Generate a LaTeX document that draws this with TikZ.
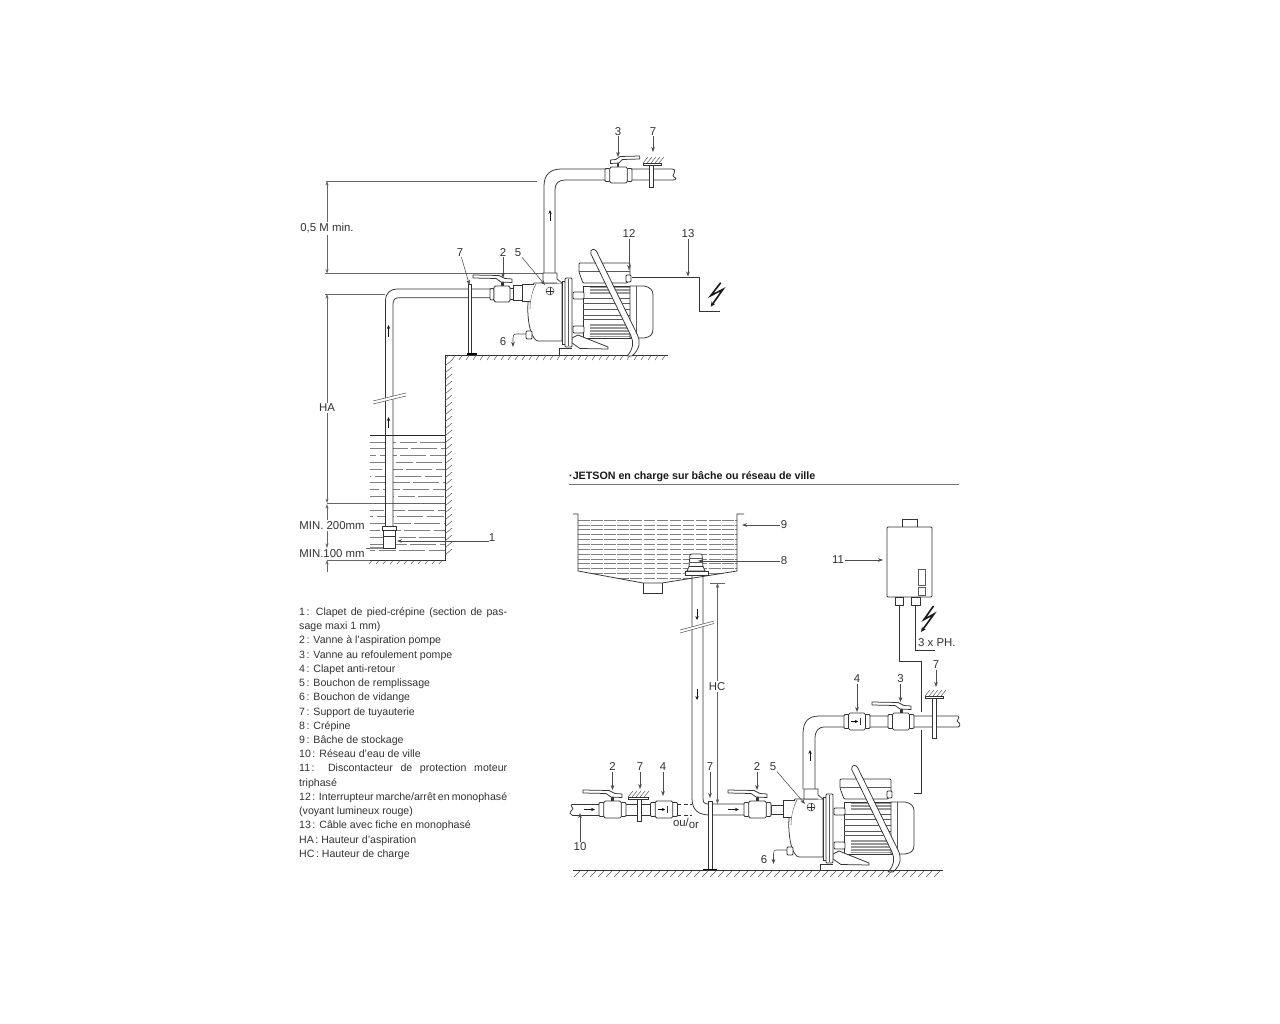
\documentclass[tikz,border=0pt]{standalone}
\usepackage{fontspec}
\setmainfont{Liberation Sans}
\usetikzlibrary{arrows.meta}
\tikzset{
  ln/.style={line width=0.75pt,black!80},
  thinln/.style={line width=0.55pt,black!65},
  dim/.style={line width=0.6pt,black!60},
  dimarr/.style={dim,{Stealth[length=4.5pt,width=3pt]}-{Stealth[length=4.5pt,width=3pt]}},
  lead/.style={line width=0.55pt,black!70,-{Stealth[length=5pt,width=3.6pt]}},
  flow/.style={line width=0.9pt,black!90,-{Stealth[length=4pt,width=3.4pt]}},
  lab/.style={font=\fontsize{11.4}{12}\selectfont,text=black!80,inner sep=0.5pt},
  water/.style={line width=0.6pt,black!50},
  hatch/.style={line width=0.5pt,black!65},
  part/.style={ln,fill=white},
  bolt/.style={line width=1.6pt,black!90,-{Stealth[length=5pt,width=4.4pt]}},
}
\newcommand\pvalve[4]{%
  \draw[part,rounded corners=1pt] ({#1-#3},{#2-#4+1.5}) rectangle ({#1-0.62*#3},{#2+#4-1.5});
  \draw[part,rounded corners=1pt] ({#1+0.62*#3},{#2-#4+1.5}) rectangle ({#1+#3},{#2+#4-1.5});
  \draw[part,rounded corners=1.5pt] ({#1-0.65*#3},{#2-#4}) rectangle ({#1+0.65*#3},{#2+#4});
}
\newcommand\phandle[3]{%
  \begin{scope}[shift={(#1,#2)},xscale=#3]
    \fill[black!80] (-1.5,-5) rectangle (1.5,0);
    \draw[part,line join=round] (-29,-11) -- (-3,-10.5) -- (3,-7.5) -- (10,-7) -- (10,-3.5) -- (-1,-4) -- (-6,-7.5) -- (-29,-8) -- cycle;
  \end{scope}
}
\newcommand\pcheck[2]{%
  \draw[line width=0.9pt,black,-{Stealth[length=3pt,width=3pt]}] ({#1-6},#2) -- ({#1+1},#2);
  \draw[line width=0.6pt,black!80] ({#1+3.5},{#2-3.5}) -- ({#1+3.5},{#2+3.5});
}
\newcommand\psupport[5]{% x1 x2 bar-y post-x post-bottom
  \foreach \xx in {0,4,...,16} {\draw[hatch] ({#1+\xx},#3) -- ({#1+\xx+5},{#3-6});}
  \draw[part] (#1,#3) rectangle (#2,{#3+2.4});
  \draw[part] ({#4-2},{#3+2.4}) rectangle ({#4+2},#5);
}
\newcommand\pumpunit{%
  % motor
  \fill[white] (579,263) rectangle (653,340);
  \draw[ln] (583,286) rectangle (630,338);
  \fill[black!40] (590,287) rectangle (630,294);
  \fill[black!40] (590,324) rectangle (630,337);
  \foreach \yy in {298,303,309,315,319}{\draw[thinln] (583,\yy) -- (630,\yy);}
  \foreach \yy in {288,291,326,329,332,335}{\draw[line width=0.4pt,white] (590,\yy) -- (630,\yy);}
  \draw[part] (630,286) -- (644,286) .. controls (650,287) and (653,290) .. (653,295) -- (653,329) .. controls (653,335) and (650,337) .. (644,338) -- (630,338) -- cycle;
  \draw[thinln] (636,286) -- (636,338);
  % terminal box
  \draw[part,rounded corners=1pt] (583,283) -- (579,272) -- (579,263) -- (630,263) -- (630,279) -- (627,283) -- cycle;
  \draw[thinln] (579,271) -- (630,271);
  \draw[part,rounded corners=1pt] (626,275) rectangle (631,282);
  % posts
  \draw[part,rounded corners=1pt] (573,292) rectangle (584,299);
  \draw[part,rounded corners=1pt] (573,326) rectangle (584,333);
  % foot and base
  \draw[part] (572,338) -- (578,335) -- (608,347) -- (608,349) -- (580,348.5) -- (572,343) -- cycle;
  \draw[ln] (559,355) -- (559,348) -- (572,348);
  % casing
  \draw[part] (534,283) .. controls (529,292) and (527,303) .. (528,315) .. controls (529,330) and (533,340) .. (538,341) -- (562,341) -- (562,283) -- cycle;
  \draw[thinln] (536,284) .. controls (532,291) and (530,300) .. (530,309);
  \draw[part] (562,281) rectangle (565,344);
  \draw[part,rounded corners=1pt] (565,278) rectangle (572,347);
  \draw[thinln] (568,279) -- (568,346);
  % outlet and suction stubs
  \draw[part] (557,283) -- (543,283) -- (543,273) -- (557,273) -- (557,279) -- (562,283);
  \draw[part] (534,284) -- (522,284) -- (522,301) -- (530,301);
  \draw[thinln] (550,291) ++(4,0) arc[start angle=0,end angle=360,radius=4];
  \draw[ln] (546,291) -- (554,291) (550,287) -- (550,295);
  % drain plug
  \draw[part,rounded corners=1pt] (526,331) rectangle (532,339);
  % handle
  \draw[part,line join=round] (590.7,253.5) .. controls (590,248.5) and (595,248) .. (596.7,251.7) -- (637.5,335) .. controls (640.5,342) and (640,349) .. (632,356) -- (627,356) .. controls (633,350) and (634,342) .. (631,336) -- cycle;
}
\newcommand\cln{\kern1.5pt:\space}
\begin{document}
\begin{tikzpicture}[x=1pt,y=-1pt]
\useasboundingbox (0,0) rectangle (1280,1024);
\fill[white] (0,0) rectangle (1280,1024);

%%%%%%%%%%%%%%%%%%% UPPER DIAGRAM
% dimensions
\draw[dim] (326,181) -- (537,181);
\draw[dim] (325,273.5) -- (545,273.5);
\draw[dim] (325,294) -- (385,294);
\draw[dim] (327,503.7) -- (445,503.7);
\draw[dim] (327,548) -- (382,548);
\draw[dim] (327,560) -- (370,560);
\draw[dimarr] (327,181) -- (327,273.5);
\draw[dimarr] (327,294) -- (327,503.2);
\draw[dim,{Stealth[length=4.5pt,width=3pt]}-{Stealth[length=4.5pt,width=3pt]}] (327,504.2) -- (327,548);
\draw[dim,{Stealth[length=4.5pt,width=3pt]}-] (327,560) -- (327,572);
\node[lab,fill=white,inner sep=1.5pt] (d05) at (327,228.5) {0,5 M min.};
\node[lab,fill=white,inner sep=1.5pt] (dha) at (327,408) {HA};
\node[lab,fill=white,inner sep=1.5pt] (d200) at (332,525.5) {MIN. 200mm};
\node[lab,fill=white,inner sep=1.5pt] (d100) at (332,553.5) {MIN.100 mm};

% water
\draw[line width=0.8pt,black!85] (370,435) -- (445,435);
\foreach \k/\ph in {1/0,2/9,3/20,4/4,5/14,6/25,7/7,8/17,9/2,11/12,12/23,13/6,14/16,15/1,16/10,17/21}{
  \draw[water,dash pattern=on 26pt off 4pt on 17pt off 3pt,dash phase=\ph pt] (370,{435+6.8*\k}) -- (445,{435+6.8*\k});
}
\fill[white] (385.5,436) rectangle (393,503);
\fill[white] (385.5,504.5) rectangle (393,527);
% ground and wall
\draw[ln] (445,355) -- (668,355);
\foreach \xx in {448,455,...,668}{\draw[hatch] (\xx,355.5) -- ({\xx-3},360);}
\draw[ln] (445,355) -- (445,560) -- (370,560);
\foreach \yy in {366,373,...,560}{\draw[hatch] (445,\yy) -- (452,{\yy-6});}
\foreach \xx in {372,379,...,445}{\draw[hatch] (\xx,560.5) -- ({\xx-3},564);}

% suction pipe
\draw[ln] (490,289) -- (398,289) .. controls (390,289) and (385.5,293) .. (385.5,301) -- (385.5,527);
\draw[ln] (490,297.7) -- (399,297.7) .. controls (395,297.7) and (393,300) .. (393,304) -- (393,527);
\fill[white] (373,401) -- (406,393) -- (406,396) -- (373,404) -- cycle;
\draw[thinln] (373,401) -- (406,393) (373,404) -- (406,396);
\draw[flow] (388.5,337) -- (388.5,325);
\draw[flow] (388.5,428) -- (388.5,417);
% foot valve
\draw[part] (382.5,526) rectangle (396,530);
\draw[part] (383,530) rectangle (395.5,536);
\draw[part] (383,536) rectangle (395.5,548);
\draw[line width=1.2pt,black!45] (370,548) -- (383,548);
\node[lab] (n1) at (492,538) {1};
\draw[lead] (489,541) -- (397,541);

% delivery pipe
\draw[ln] (544,273) -- (544,186) .. controls (544,175) and (550,169) .. (561,169) -- (672,169);
\draw[ln] (555,273) -- (555,190) .. controls (555,184) and (558,180) .. (565,180) -- (673,180);
\draw[ln] (672,169) .. controls (679,170) and (670,176) .. (674,177) .. controls (677,178) and (676,180) .. (673,180);
\draw[flow] (550,221) -- (550,210);
% valve 3 + handle
\phandle{618}{167}{-0.75}
\pvalve{618.5}{175}{13.5}{8}
% support 7 top
\psupport{643}{661}{163}{651}{187}

% pump
\pumpunit
% suction valve
\draw[part] (507,288) -- (513,288) -- (513,299) -- (507,299) -- cycle;
\draw[part] (513,285.5) -- (522,285.5) -- (522,300) -- (513,300) -- cycle;
\phandle{502}{286}{1}
\draw[part,rounded corners=1pt] (490,288.5) rectangle (494,300);
\draw[part,rounded corners=1.5pt] (494,286) rectangle (510,302);
% support 7 (upper)
\draw[part] (468.5,284) rectangle (471.5,354);
\draw[line width=2pt,black] (467,354.5) -- (477,354.5);

% cable 13
\draw[ln] (632,277.5) -- (699,277.5) -- (699,311) -- (720,311);
\draw[bolt] (720.7,282.7) -- (710.7,295.7) -- (723,289.3) -- (710.7,306.7);

% labels
\node[lab] (u3) at (618,131.5) {3};
\draw[lead] (u3) -- (618,157);
\node[lab] (u7a) at (653,131.5) {7};
\draw[lead] (u7a) -- (653,152);
\node[lab] (u12) at (629,234) {12};
\draw[lead] (u12) -- (629,270);
\node[lab] (u13) at (688,234) {13};
\draw[lead] (u13) -- (688,276.5);
\node[lab] (u7b) at (460,252.5) {7};
\draw[lead] (u7b) -- (469.5,285);
\node[lab] (u2) at (503,252.5) {2};
\draw[lead] (u2) -- (503,278);
\node[lab] (u5) at (518,252.5) {5};
\draw[lead] (u5) -- (545,285);
\node[lab] (u6) at (503,342) {6};
\coordinate (u6a) at (526,334);
\draw[lead] (u6a) -- (516,334) .. controls (514,334) and (513,335) .. (513,338) -- (513,347);

%%%%%%%%%%%%%%%%%%% LOWER DIAGRAM
\node[font=\fontsize{10.7}{12}\selectfont\bfseries,text=black!90,anchor=west,inner sep=0pt] (head) at (569,477) {·JETSON en charge sur bâche ou réseau de ville};
\draw[line width=0.8pt,black!55] (569,484) -- (959,484);

% tank
\begin{scope}
  \clip (578,519) -- (737,519) -- (737,571) -- (662,583) -- (643,583) -- (578,571) -- cycle;
  \foreach \k in {0,...,12}{
    \draw[water,dash pattern=on 11.5pt off 1.6pt] (578,{520+4.85*\k}) -- (737,{520+4.85*\k});
  }
\end{scope}
\draw[ln] (573,514) -- (578,514) -- (578,571) -- (643,583) -- (662,583) -- (737,571) -- (737,514) -- (744,514);
\draw[ln] (643,583) -- (643,593) -- (662,593) -- (662,583);
\draw[ln,line width=0.9pt] (645,593) -- (660,593);

% strainer
\draw[part,rounded corners=1pt] (689,567) -- (690,554) -- (702,554) -- (703,567) -- cycle;
\draw[thinln] (689.5,558) -- (702.5,558) (689.5,562) -- (702.5,562);
\draw[part] (687,571) -- (689,566.5) -- (703,566.5) -- (705,571) -- cycle;
\draw[part] (685,571) rectangle (708,575);

% HC dimension
\draw[dim] (710,583) -- (725,583);
\draw[dim,{Stealth[length=5pt,width=3.4pt]}-{Stealth[length=5pt,width=3.4pt]}] (717.5,583) -- (717.5,804);
\node[lab,fill=white,inner sep=1.5pt] (hc) at (717,686.5) {HC};

% drop pipe
\draw[ln] (692,575) -- (692,798) .. controls (692,810) and (698,815) .. (710,815) -- (746,815);
\draw[ln] (703,575) -- (703,798) .. controls (703,802) and (704,804) .. (708,804) -- (746,804);
\fill[white] (680,630) -- (714,621) -- (714,623.5) -- (680,633) -- cycle;
\draw[thinln] (680,630) -- (714,621) (680,633) -- (714,623.5);
\draw[flow] (697,609) -- (697,620);
\draw[flow] (697,689) -- (697,700);
\draw[flow] (728,809.5) -- (739,809.5);

% left feed
\draw[ln] (572,804) -- (677,804);
\draw[ln] (572,815) -- (677,815);
\draw[ln] (572,804) .. controls (569,806) and (575,808) .. (572,810) .. controls (569,812) and (570,815) .. (572,815);
\draw[ln,dash pattern=on 4pt off 2.5pt] (677,804) -- (692,804) (677,815) -- (692,815);
\draw[flow] (584,809.5) -- (595,809.5);
\phandle{612}{801}{1}
\pvalve{612.5}{809.5}{13.5}{8.5}
\psupport{628}{648}{797}{639}{821}
\pvalve{664}{809.5}{13.5}{8.5}
\pcheck{664}{809.5}
\node[lab] (or) at (686,823) {ou/\raisebox{-2pt}{or}};

% right pipe
\draw[ln] (803,789) -- (803,734) .. controls (803,722) and (808,716) .. (819,716) -- (958,716);
\draw[ln] (815,789) -- (815,739) .. controls (815,731) and (818,727) .. (825,727) -- (958,727);
\draw[ln] (958,716) .. controls (961,718) and (955,721) .. (958,722) .. controls (961,723) and (960,727) .. (958,727);
\draw[flow] (810,761) -- (810,750);
\pvalve{857}{721.5}{13}{8.5}
\pcheck{857}{721.5}
\phandle{901}{713}{1}
\pvalve{901}{721.5}{13}{8.5}

% cables to discontactor
\draw[ln] (899,605) -- (899,661) -- (921.5,661) -- (921.5,712);
\draw[ln] (921.5,730) -- (921.5,793) -- (892,793);
\draw[ln] (915,605) -- (915,650) -- (935,650);
\psupport{925}{943}{696}{934.5}{738}
\draw[bolt] (933.5,606) -- (924,619.5) -- (934,614) -- (921,632);

% discontactor
\draw[part] (902,527) -- (902,519) -- (917,519) -- (917,527);
\draw[part,rounded corners=1pt] (887,527) rectangle (932,597);
\draw[thinln] (918,569) rectangle (925,585);
\draw[thinln] (918,587) rectangle (925,595);
\draw[part] (895,597) rectangle (903,605);
\draw[part] (911,597) rectangle (920,605);
\node[lab,anchor=west,fill=white,inner sep=1pt] (ph) at (917,643) {3 x PH.};

% pump 2 and inlet valve
\begin{scope}[shift={(261,516)}]
  \pumpunit
\end{scope}
\draw[part] (771,805) rectangle (783,814);
\phandle{757}{801}{1}
\pvalve{757.5}{809.5}{13.5}{8.5}
% mid support
\draw[part] (708,801) rectangle (712,870);
\draw[line width=1.4pt,black] (703,870) -- (717,870);

% ground
\draw[ln] (573,870.5) -- (943,870.5);
\foreach \xx in {580,588,...,944}{\draw[hatch] (\xx,871) -- ({\xx-6},877);}

% lower labels
\node[lab] (l9) at (784,525) {9};
\draw[lead] (l9) -- (742,525);
\node[lab] (l8) at (784,561) {8};
\draw[lead] (l8) -- (698,561);
\node[lab] (l11) at (838,560) {11};
\draw[lead] (l11) -- (883,560);
\node[lab] (l7a) at (936,665) {7};
\draw[lead] (l7a) -- (936,687);
\node[lab] (l4a) at (857,679) {4};
\draw[lead] (l4a) -- (857,712);
\node[lab] (l3) at (900.5,679) {3};
\draw[lead] (l3) -- (900.5,702);
\node[lab] (l2a) at (612.5,767) {2};
\draw[lead] (l2a) -- (612.5,790);
\node[lab] (l7b) at (640,767) {7};
\draw[lead] (l7b) -- (640,789);
\node[lab] (l4b) at (663,767) {4};
\draw[lead] (l4b) -- (663,796);
\node[lab] (l7c) at (710,767) {7};
\draw[lead] (l7c) -- (710,798);
\node[lab] (l2b) at (757,767) {2};
\draw[lead] (l2b) -- (757,790);
\node[lab] (l5) at (773,767) {5};
\draw[lead] (l5) -- (805,804);
\node[lab] (l10) at (580,846.5) {10};
\draw[lead] (l10) -- (580,813);
\node[lab] (l6) at (764,860) {6};
\coordinate (l6a) at (787,850);
\draw[lead] (l6a) -- (776,850) .. controls (774,850) and (773.5,851) .. (773.5,854) -- (773.5,864);

%%%%%%%%%%%%%%%%%%% LEGEND
\node[anchor=north west,inner sep=0pt,text width=212pt,align=flush left,text=black!80,
  font=\fontsize{10.6}{14.22}\selectfont] (legend) at (299,607.5) {%
\makebox[208pt][s]{1\cln Clapet de pied-crépine (section de pas-}\\
sage maxi 1 mm)\\
2\cln Vanne à l'aspiration pompe\\
3\cln Vanne au refoulement pompe\\
4\cln Clapet anti-retour\\
5\cln Bouchon de remplissage\\
6\cln Bouchon de vidange\\
7\cln Support de tuyauterie\\
8\cln Crépine\\
9\cln Bâche de stockage\\
10\cln Réseau d'eau de ville\\
\makebox[208pt][s]{11\cln Discontacteur de protection moteur}\\
triphasé\\
\makebox[208pt][s]{12\cln Interrupteur marche/arrêt en monophasé}\\
(voyant lumineux rouge)\\
13\cln Câble avec fiche en monophasé\\
HA\cln Hauteur d'aspiration\\
HC\cln Hauteur de charge};
\end{tikzpicture}
\end{document}
